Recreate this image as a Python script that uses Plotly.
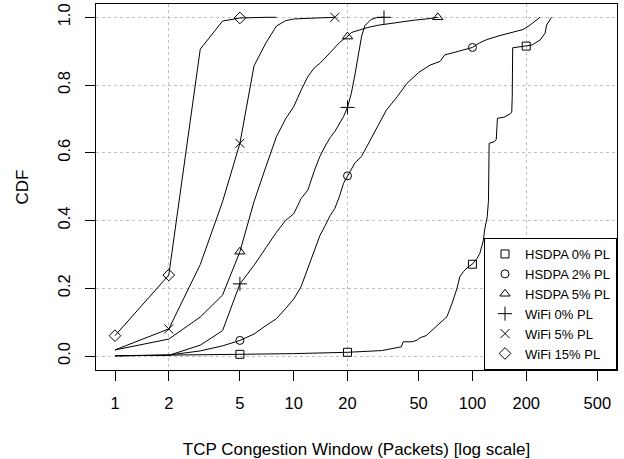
import plotly.graph_objects as go

# ---- data ----
hsdpa0_x = [1, 2, 5, 10, 20, 31, 37, 40, 41, 46, 49, 51, 55, 59, 63, 66, 72, 77, 82, 85, 89, 95, 100, 106, 110,
            115, 117, 121, 123, 124, 133, 136, 138, 150, 163, 166, 167, 168, 185, 200, 215, 239, 255, 260, 274, 277]
hsdpa0_y = [0.001, 0.002, 0.005, 0.007, 0.011, 0.016, 0.023, 0.027, 0.042, 0.042, 0.047, 0.054, 0.060, 0.075, 0.087,
            0.097, 0.116, 0.156, 0.200, 0.234, 0.249, 0.264, 0.271, 0.288, 0.303, 0.340, 0.372, 0.411, 0.460, 0.628,
            0.633, 0.640, 0.702, 0.705, 0.715, 0.720, 0.766, 0.910, 0.913, 0.915, 0.918, 0.933, 0.953, 0.977, 0.997, 1.000]
hsdpa0_marks = [5, 20, 100, 200]

hsdpa2_x = [1, 2, 3, 4, 5, 6, 7, 8, 9, 10, 11, 12, 13, 14, 15, 16, 17, 18, 19, 20, 22, 24, 28, 33, 38, 43, 50, 58,
            66, 70, 80, 93, 100, 110, 120, 140, 162, 192, 210, 228, 239]
hsdpa2_y = [0.000, 0.003, 0.015, 0.030, 0.046, 0.065, 0.090, 0.110, 0.140, 0.168, 0.205, 0.260, 0.310, 0.355, 0.385,
            0.415, 0.436, 0.470, 0.510, 0.532, 0.570, 0.590, 0.657, 0.726, 0.766, 0.805, 0.837, 0.859, 0.870, 0.889,
            0.897, 0.908, 0.911, 0.925, 0.934, 0.945, 0.953, 0.964, 0.977, 0.992, 1.000]
hsdpa2_marks = [5, 20, 100]

hsdpa5_x = [1, 2, 3, 4, 5, 6, 7, 8, 9, 10, 11, 12, 13, 14, 15, 16, 17, 18, 19, 20, 21, 23, 26, 30, 35, 40, 48, 55, 64]
hsdpa5_y = [0.018, 0.050, 0.115, 0.180, 0.308, 0.456, 0.560, 0.647, 0.700, 0.736, 0.785, 0.825, 0.850, 0.864, 0.880,
            0.897, 0.910, 0.925, 0.935, 0.943, 0.955, 0.962, 0.970, 0.977, 0.982, 0.988, 0.992, 0.995, 1.000]
hsdpa5_marks = [5, 20, 64]

wifi0_x = [1, 2, 3, 4, 5, 6, 7, 8, 9, 10, 11, 12, 13, 14, 15, 16, 17, 18, 19, 20, 21, 22, 23, 24, 25, 27, 29, 32]
wifi0_y = [0.001, 0.002, 0.032, 0.075, 0.213, 0.268, 0.320, 0.365, 0.400, 0.420, 0.465, 0.490, 0.545, 0.589, 0.620,
           0.645, 0.663, 0.685, 0.707, 0.734, 0.775, 0.830, 0.890, 0.945, 0.975, 0.993, 0.999, 1.000]
wifi0_marks = [5, 20, 32]

wifi5_x = [1, 2, 3, 4, 5, 6, 7, 8, 9, 10, 12, 14, 17]
wifi5_y = [0.018, 0.080, 0.270, 0.456, 0.628, 0.857, 0.925, 0.974, 0.990, 0.995, 0.997, 0.999, 1.000]
wifi5_marks = [2, 5, 17]

wifi15_x = [1, 2, 3, 4, 5, 6, 7, 8]
wifi15_y = [0.060, 0.239, 0.906, 0.989, 0.998, 1.000, 1.000, 1.000]
wifi15_marks = [1, 2, 5]

series_names = ["HSDPA 0% PL", "HSDPA 2% PL", "HSDPA 5% PL", "WiFi 0% PL", "WiFi 5% PL", "WiFi 15% PL"]
series_symbols = ["square-open", "circle-open", "triangle-up-open", "cross-thin-open", "x-thin-open", "diamond-open"]
series_sizes = [8, 8, 9, 10, 9, 9]

x_tick_vals = [1, 2, 5, 10, 20, 50, 100, 200, 500]
x_tick_text = ["1", "2", "5", "10", "20", "50", "100", "200", "500"]
x_grid_vals = [2, 20, 200]
y_tick_vals = [0.0, 0.2, 0.4, 0.6, 0.8, 1.0]
y_tick_text = ["0.0", "0.2", "0.4", "0.6", "0.8", "1.0"]

series = [
    (hsdpa0_x, hsdpa0_y, hsdpa0_marks),
    (hsdpa2_x, hsdpa2_y, hsdpa2_marks),
    (hsdpa5_x, hsdpa5_y, hsdpa5_marks),
    (wifi0_x, wifi0_y, wifi0_marks),
    (wifi5_x, wifi5_y, wifi5_marks),
    (wifi15_x, wifi15_y, wifi15_marks),
]

FONT = "Liberation Sans, Arial, Helvetica, sans-serif"

fig = go.Figure()
for (xs, ys, marks), name, sym, sz in zip(series, series_names, series_symbols, series_sizes):
    fig.add_trace(go.Scatter(x=xs, y=ys, mode="lines", line=dict(color="black", width=1),
                             showlegend=False, hoverinfo="skip"))
    lookup = dict(zip(xs, ys))
    fig.add_trace(go.Scatter(x=marks, y=[lookup[m] for m in marks], mode="markers", name=name,
                             marker=dict(symbol=sym, size=sz, color="black", line=dict(color="black", width=1))))

# invisible trace to activate the grid overlay axis
fig.add_trace(go.Scatter(x=[x_grid_vals[0]], y=[0], xaxis="x2", mode="markers",
                         marker=dict(opacity=0), showlegend=False, hoverinfo="skip"))

x_range = [-0.1063, 2.809]

fig.update_layout(
    width=624, height=459,
    margin=dict(l=96, r=7, t=4, b=89, autoexpand=False),
    paper_bgcolor="white", plot_bgcolor="white",
    font=dict(family=FONT, size=16, color="black"),
    xaxis=dict(
        type="log", range=x_range, automargin=False,
        tickmode="array", tickvals=x_tick_vals, ticktext=x_tick_text,
        ticks="outside", ticklen=10, tickwidth=1, tickcolor="black",
        showgrid=False, zeroline=False,
        showline=True, mirror=True, linecolor="black", linewidth=1,
        tickfont=dict(size=16.5), ticklabelstandoff=8,
        title=dict(text="TCP Congestion Window (Packets) [log scale]", font=dict(size=17), standoff=32),
    ),
    xaxis2=dict(
        type="log", range=x_range, overlaying="x", anchor="y", automargin=False,
        tickmode="array", tickvals=x_grid_vals, showticklabels=False, ticks="",
        showgrid=True, gridcolor="#c0c0c0", griddash="dot", gridwidth=1,
        showline=False, zeroline=False,
    ),
    yaxis=dict(
        range=[-0.0413, 1.0393], automargin=False,
        tickmode="array", tickvals=y_tick_vals, ticktext=y_tick_text,
        ticks="outside", ticklen=10, tickwidth=1, tickcolor="black",
        tickangle=-90, tickfont=dict(size=16.5), ticklabelstandoff=8,
        showgrid=True, gridcolor="#c0c0c0", griddash="dot", gridwidth=1,
        zeroline=False,
        showline=True, mirror=True, linecolor="black", linewidth=1,
        title=dict(text="CDF", font=dict(size=17), standoff=22),
    ),
    legend=dict(
        x=1, y=0, xanchor="right", yanchor="bottom",
        bgcolor="white", bordercolor="black", borderwidth=1,
        font=dict(size=13), tracegroupgap=0, itemwidth=30,
    ),
)

fig.write_html("out.html", config={"displayModeBar": False},
               post_script="document.body.style.margin='0';document.body.style.padding='0';")
